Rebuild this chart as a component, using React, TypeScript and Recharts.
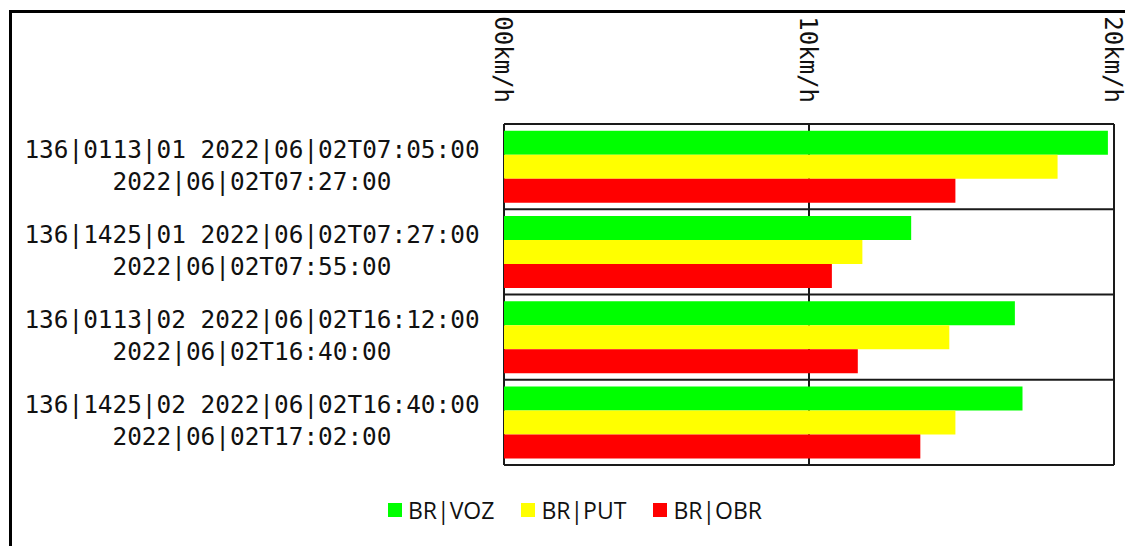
import { Bar, BarChart, CartesianGrid, Legend, XAxis, YAxis } from "recharts";

// route / start time on the first line, end time on the second
const categories = [
  "136|0113|01 2022|06|02T07:05:00\n2022|06|02T07:27:00",
  "136|1425|01 2022|06|02T07:27:00\n2022|06|02T07:55:00",
  "136|0113|02 2022|06|02T16:12:00\n2022|06|02T16:40:00",
  "136|1425|02 2022|06|02T16:40:00\n2022|06|02T17:02:00",
];

const voz = [19.8, 13.35, 16.75, 17.0];
const put = [18.15, 11.75, 14.6, 14.8];
const obr = [14.8, 10.75, 11.6, 13.65];

const xTicks = [0, 10, 20];

const seriesNames = ["BR|VOZ", "BR|PUT", "BR|OBR"];
const seriesColors = ["#00ff00", "#ffff00", "#ff0000"];

const data = categories.map((name, i) => ({
  name,
  voz: voz[i],
  put: put[i],
  obr: obr[i],
}));

const MONO = "'DejaVu Sans Mono', monospace";

function SpeedTick({ x, y, payload }: any) {
  const label = String(payload.value).padStart(2, "0") + "km/h";
  return (
    <text
      transform={`translate(${x - 9}, ${y}) rotate(90)`}
      textAnchor="end"
      fontFamily={MONO}
      fontSize={24}
      fill="#111"
    >
      {label}
    </text>
  );
}

function RunTick({ x, y, payload }: any) {
  const [first, second] = String(payload.value).split("\n");
  const cx = x - 227;
  return (
    <text textAnchor="middle" fontFamily={MONO} fontSize={24.4} fill="#111">
      <tspan x={cx} y={y - 9}>
        {first}
      </tspan>
      <tspan x={cx} y={y + 23}>
        {second}
      </tspan>
    </text>
  );
}

function LegendContent() {
  return (
    <div
      style={{
        display: "flex",
        justifyContent: "center",
        gap: 27,
        fontFamily: "'Open Sans', sans-serif",
        fontSize: 23,
        lineHeight: "28px",
        color: "#111",
      }}
    >
      {seriesNames.map((n, i) => (
        <div key={n} style={{ display: "flex", alignItems: "center" }}>
          <span
            style={{
              display: "inline-block",
              width: 14,
              height: 14,
              background: seriesColors[i],
              marginRight: 6,
            }}
          />
          <span>{n}</span>
        </div>
      ))}
    </div>
  );
}

export default function App() {
  return (
    <div
      style={{
        position: "absolute",
        left: 0,
        top: 0,
        width: 1125,
        height: 546,
        overflow: "hidden",
        background: "#fff",
      }}
    >
      {/* outer frame, only its top and left edges fall inside the picture */}
      <div
        style={{
          position: "absolute",
          left: 9,
          top: 10,
          width: 1200,
          height: 700,
          borderTop: "3px solid #000",
          borderLeft: "3px solid #000",
        }}
      />
      <div style={{ position: "absolute", left: 0, top: 0 }}>
        <BarChart
          width={1125}
          height={546}
          data={data}
          layout="vertical"
          margin={{ top: 10, right: 11, bottom: 81, left: 0 }}
          barCategoryGap="8%"
          barGap={0}
        >
          <CartesianGrid
            stroke="#1a1a1a"
            strokeWidth={2}
            horizontalCoordinatesGenerator={({ offset }: any) =>
              [0, 1, 2, 3, 4].map(
                (i) => offset.top + (i * offset.height) / categories.length
              )
            }
          />
          <XAxis
            type="number"
            orientation="top"
            domain={[0, 20]}
            ticks={xTicks}
            height={114}
            tickSize={0}
            tickMargin={21}
            axisLine={false}
            tickLine={false}
            tick={<SpeedTick />}
            interval={0}
          />
          <YAxis
            type="category"
            dataKey="name"
            width={504}
            tickSize={0}
            tickMargin={25}
            axisLine={false}
            tickLine={false}
            tick={<RunTick />}
            interval={0}
          />
          <Legend
            layout="horizontal"
            verticalAlign="middle"
            align="center"
            wrapperStyle={{ top: 496, left: 0, width: 1150 }}
            content={<LegendContent />}
          />
          <Bar dataKey="voz" name={seriesNames[0]} fill={seriesColors[0]} isAnimationActive={false} />
          <Bar dataKey="put" name={seriesNames[1]} fill={seriesColors[1]} isAnimationActive={false} />
          <Bar dataKey="obr" name={seriesNames[2]} fill={seriesColors[2]} isAnimationActive={false} />
        </BarChart>
      </div>
    </div>
  );
}
